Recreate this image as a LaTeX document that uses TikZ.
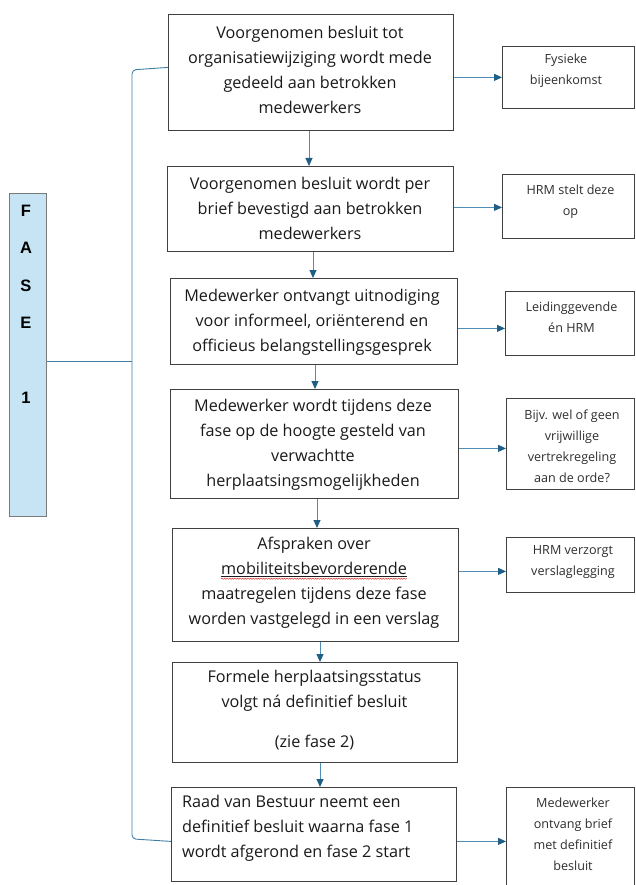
\documentclass[tikz,border=0pt]{standalone}
\usepackage{fontspec}
\setmainfont{Open Sans}
\newfontfamily\fasefont{Liberation Sans}
\usetikzlibrary{arrows.meta,calc,decorations.pathmorphing}
\definecolor{boxline}{HTML}{404040}
\definecolor{arrline}{HTML}{4F8FB5}
\definecolor{arrhead}{HTML}{1F5E85}
\definecolor{brkline}{HTML}{3F7FA5}
\definecolor{fasefill}{HTML}{C6E4F4}
\definecolor{fasedraw}{HTML}{7A7A7A}
\definecolor{txtmain}{HTML}{1A1A1A}
\definecolor{txtside}{HTML}{2E2E2E}
\definecolor{spellred}{HTML}{E03030}
\newcommand\spellmark[1]{\tikz[baseline=(sw.base)]{\node[inner sep=0pt,outer sep=0pt](sw){\underline{#1}};\draw[spellred,line width=0.5pt,decorate,decoration={snake,amplitude=0.6pt,segment length=2.6pt}] ([yshift=-1.8pt]sw.south west) -- ([yshift=-1.8pt]sw.south east);}}
\begin{document}
\begin{tikzpicture}[x=1pt,y=-1pt,
  box/.style={draw=boxline,line width=0.8pt,anchor=north west,inner sep=0pt,fill=white},
  maintext/.style={inner sep=0pt,align=center,text=txtmain,font=\fontsize{16.2}{25}\selectfont},
  sidetext/.style={inner sep=0pt,align=center,text=txtside,font=\fontsize{12.6}{21}\selectfont},
  fasebox/.style={draw=fasedraw,line width=0.8pt,fill=fasefill,anchor=north west,inner sep=0pt},
  fasetext/.style={inner sep=0pt,align=center,text=black,font=\fasefont\bfseries\fontsize{16.5}{37.5}\selectfont},
  flow/.style={draw=arrline,line width=0.9pt,-{Triangle[length=8pt,width=7pt,color=arrhead]}},
  brk/.style={draw=brkline,line width=0.9pt,rounded corners=4pt},
]
\useasboundingbox[fill=white] (0,0) rectangle (635,885);

% FASE column
\node[fasebox,minimum width=37pt,minimum height=323pt] (fase) at (9,193) {};
\node[fasetext] (ft) at (26,304.5) {F\\A\\S\\E\\[37.5pt]1};

% main boxes
\node[box,minimum width=285pt,minimum height=116pt] (b1) at (168,14) {};
\node[box,minimum width=286pt,minimum height=85pt]  (b2) at (167,166) {};
\node[box,minimum width=287pt,minimum height=86pt]  (b3) at (170,278) {};
\node[box,minimum width=288pt,minimum height=109pt] (b4) at (170,389) {};
\node[box,minimum width=286pt,minimum height=113pt] (b5) at (172,528) {};
\node[box,minimum width=285pt,minimum height=100pt] (b6) at (172,662) {};
\node[box,minimum width=285pt,minimum height=94pt]  (b7) at (171,787) {};

\node[maintext] (t1) at (310,70) {Voorgenomen besluit tot\\organisatiewijziging wordt mede\\gedeeld aan betrokken\\medewerkers};
\node[maintext] (t2) at (310,208) {Voorgenomen besluit wordt per\\brief bevestigd aan betrokken\\medewerkers};
\node[maintext] (t3) at (312,322) {Medewerker ontvangt uitnodiging\\voor informeel, oriënterend en\\officieus belangstellingsgesprek};
\node[maintext] (t4) at (313,445) {Medewerker wordt tijdens deze\\fase op de hoogte gesteld van\\verwachtte\\herplaatsingsmogelijkheden};
\node[maintext] (t5) at (314,583) {Afspraken over\\\spellmark{mobiliteitsbevorderende}\\maatregelen tijdens deze fase\\worden vastgelegd in een verslag};
\node[maintext] (t6) at (314.5,710.5) {Formele herplaatsingsstatus\\volgt ná definitief besluit\\[15pt](zie fase 2)};
\node[maintext,align=left,anchor=west] (t7) at (182,828.5) {Raad van Bestuur neemt een\\definitief besluit waarna fase 1\\wordt afgerond en fase 2 start};

% side boxes
\node[box,minimum width=132pt,minimum height=62pt]  (s1) at (502,46) {};
\node[box,minimum width=132pt,minimum height=64pt]  (s2) at (502,174) {};
\node[box,minimum width=129pt,minimum height=64pt]  (s3) at (505,291) {};
\node[box,minimum width=128pt,minimum height=91pt]  (s4) at (506,398) {};
\node[box,minimum width=128pt,minimum height=55pt]  (s5) at (506,537) {};
\node[box,minimum width=128pt,minimum height=103pt] (s6) at (506,787) {};

\node[sidetext] (u1) at (566,70.5) {Fysieke\\bijeenkomst};
\node[sidetext] (u2) at (570.5,201.5) {HRM stelt deze\\op};
\node[sidetext] (u3) at (571.5,317) {Leidinggevende\\én HRM};
\node[sidetext] (u4) at (572,446) {Bijv. wel of geen\\vrijwillige\\vertrekregeling\\aan de orde?};
\node[sidetext] (u5) at (573,562.5) {HRM verzorgt\\verslaglegging};
\node[sidetext] (u6) at (573,834) {Medewerker\\ontvang brief\\met definitief\\besluit};

% vertical flow arrows
\coordinate (v1) at (309,0);
\coordinate (v2) at (313,0);
\coordinate (v3) at (315,0);
\coordinate (v4) at (317,0);
\coordinate (v5) at (320,0);
\draw[flow] (v1 |- b1.south) -- (v1 |- b2.north);
\draw[flow] (v2 |- b2.south) -- (v2 |- b3.north);
\draw[flow] (v3 |- b3.south) -- (v3 |- b4.north);
\draw[flow] (v4 |- b4.south) -- (v4 |- b5.north);
\draw[flow] (v5 |- b5.south) -- (v5 |- b6.north);
\draw[flow] (v5 |- b6.south) -- (v5 |- b7.north);

% horizontal arrows to side boxes
\coordinate (a1) at (s1.west);
\coordinate (a2) at ([yshift=-1pt]s2.west);
\coordinate (a3) at ([yshift=-5pt]s3.west);
\coordinate (a4) at ([yshift=-4.5pt]s4.west);
\coordinate (a5) at ([yshift=-6.5pt]s5.west);
\coordinate (a6) at ([yshift=-2.5pt]s6.west);
\draw[flow] (b1.east |- a1) -- (a1);
\draw[flow] (b2.east |- a2) -- (a2);
\draw[flow] (b3.east |- a3) -- (a3);
\draw[flow] (b4.east |- a4) -- (a4);
\draw[flow] (b5.east |- a5) -- (a5);
\draw[flow] (b7.east |- a6) -- (a6);

% bracket
\coordinate (bx) at (132,0);
\coordinate (bt) at ([yshift=5pt]b1.west);
\coordinate (bb) at ([yshift=-7pt]b7.west);
\coordinate (fl) at ([yshift=-6.5pt]fase.east);
\draw[brk] (bt) -- ([yshift=-2.5pt]bx |- bt) -- ([yshift=2.5pt]bx |- bb) -- (bb);
\draw[brk] (fl) -- (bx |- fl);
\end{tikzpicture}
\end{document}
